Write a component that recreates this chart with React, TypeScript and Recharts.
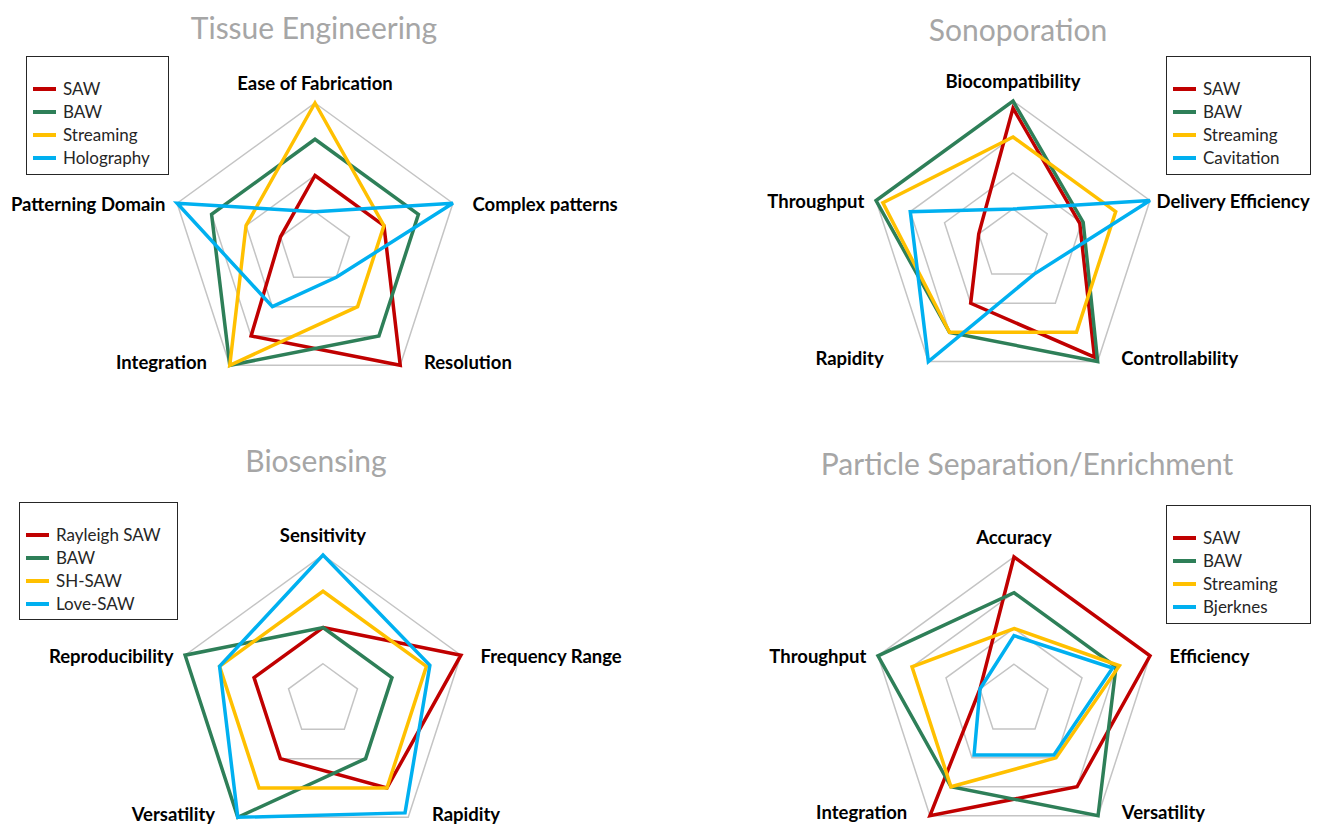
import React from "react";
import {
  RadarChart,
  Radar,
  PolarGrid,
  PolarAngleAxis,
  PolarRadiusAxis,
  Legend,
} from "recharts";

// ---- data ----
const COLORS = ["#c00000", "#2e7f58", "#ffc000", "#00b0f0"];

const tissueAxes = ["Ease of Fabrication", "Complex patterns", "Resolution", "Integration", "Patterning Domain"];
const tissueNames = ["SAW", "BAW", "Streaming", "Holography"];
const tissueSaw = [2, 2, 4, 3, 1];
const tissueBaw = [3, 3, 3, 4, 3];
const tissueStreaming = [4, 2, 2, 4, 2];
const tissueHolography = [1, 4, 1, 2, 4];

const sonoAxes = ["Biocompatibility", "Delivery Efficiency", "Controllability", "Rapidity", "Throughput"];
const sonoNames = ["SAW", "BAW", "Streaming", "Cavitation"];
const sonoSaw = [3.8, 1.95, 3.85, 2, 1];
const sonoBaw = [4, 2.05, 4, 3, 4];
const sonoStreaming = [3, 3, 3, 3, 3.8];
const sonoCavitation = [1, 4, 1, 4, 3];

const bioAxes = ["Sensitivity", "Frequency Range", "Rapidity", "Versatility", "Reproducibility"];
const bioNames = ["Rayleigh SAW", "BAW", "SH-SAW", "Love-SAW"];
const bioRayleigh = [2, 4, 3, 2, 2];
const bioBaw = [2, 2, 2, 4, 4];
const bioShSaw = [3, 3, 3, 3, 3];
const bioLove = [4, 3.1, 3.85, 4, 3];

const partAxes = ["Accuracy", "Efficiency", "Versatility", "Integration", "Throughput"];
const partNames = ["SAW", "BAW", "Streaming", "Bjerknes"];
const partSaw = [4, 4, 3, 4, 1];
const partBaw = [3, 3, 4, 3, 4];
const partStreaming = [2, 3.1, 2, 3, 3];
const partBjerknes = [1.8, 2.9, 1.9, 1.9, 1];

const FONT = "Lato, 'Open Sans', sans-serif";

function buildRows(axes: string[], values: number[][]) {
  return axes.map((axis, i) => {
    const row: Record<string, any> = { axis };
    values.forEach((v, k) => {
      row["s" + k] = v[i];
    });
    return row;
  });
}

const panels = [
  {
    title: "Tissue Engineering",
    titleX: 314, titleY: 27,
    left: 0, top: 0,
    cx: 315, cy: 248, r: 145,
    legend: { left: 26, top: 56, width: 143, height: 119 },
    names: tissueNames,
    rows: buildRows(tissueAxes, [tissueSaw, tissueBaw, tissueStreaming, tissueHolography]),
    nudge: {} as Record<string, number>,
  },
  {
    title: "Sonoporation",
    titleX: 358, titleY: 29,
    left: 660, top: 0,
    cx: 353, cy: 245, r: 144,
    legend: { left: 506, top: 56, width: 145, height: 119 },
    names: sonoNames,
    rows: buildRows(sonoAxes, [sonoSaw, sonoBaw, sonoStreaming, sonoCavitation]),
    nudge: { Rapidity: -22, "Delivery Efficiency": -13 } as Record<string, number>,
  },
  {
    title: "Biosensing",
    titleX: 316, titleY: 48,
    left: 0, top: 412,
    cx: 323, cy: 288, r: 145,
    legend: { left: 19, top: 90, width: 159, height: 118 },
    names: bioNames,
    rows: buildRows(bioAxes, [bioRayleigh, bioBaw, bioShSaw, bioLove]),
    nudge: {} as Record<string, number>,
  },
  {
    title: "Particle Separation/Enrichment",
    titleX: 367, titleY: 51,
    left: 660, top: 412,
    cx: 354, cy: 288, r: 143,
    legend: { left: 506, top: 93, width: 145, height: 119 },
    names: partNames,
    rows: buildRows(partAxes, [partSaw, partBaw, partStreaming, partBjerknes]),
    nudge: {} as Record<string, number>,
  },
];

function AngleTick(props: any) {
  const { x, y, payload, nudge } = props;
  const ang = (payload.coordinate * Math.PI) / 180;
  const c = Math.cos(ang);
  const s = Math.sin(ang);
  let dx = 0;
  let dy = 0;
  let anchor: "start" | "middle" | "end" = "middle";
  if (Math.abs(c) < 1e-3) {
    dy = -12;
  } else if (c > 0 && s > 0) {
    anchor = "start"; dx = 12; dy = 3;
  } else if (c > 0) {
    anchor = "start"; dx = 19; dy = -10;
  } else if (s < 0) {
    anchor = "end"; dx = -18; dy = -10;
  } else {
    anchor = "end"; dx = -4; dy = 3;
  }
  dx += (nudge && nudge[payload.value]) || 0;
  return (
    <text
      x={x + dx}
      y={y + dy}
      textAnchor={anchor}
      dominantBaseline="central"
      fontFamily={FONT}
      fontWeight={700}
      fontSize={18.5}
      fill="#000"
    >
      {payload.value}
    </text>
  );
}

function LegendBox(props: any) {
  const { payload, order } = props;
  const items = [...(payload || [])].sort(
    (a: any, b: any) => order.indexOf(a.value) - order.indexOf(b.value)
  );
  return (
    <div
      style={{
        boxSizing: "border-box",
        width: "100%",
        height: "100%",
        border: "1.5px solid #262626",
        background: "#fff",
        padding: "20px 0 0 6px",
        fontFamily: FONT,
        fontSize: 17,
        color: "#262626",
      }}
    >
      {items.map((p: any) => (
        <div key={p.value} style={{ display: "flex", alignItems: "center", height: 23 }}>
          <span style={{ display: "inline-block", width: 23, height: 4, background: p.color, marginRight: 7 }} />
          <span>{p.value}</span>
        </div>
      ))}
    </div>
  );
}

function Panel({ p }: { p: (typeof panels)[number] }) {
  return (
    <div style={{ position: "absolute", left: p.left, top: p.top, width: 660, height: 413 }}>
      <div
        style={{
          position: "absolute",
          left: p.titleX,
          top: p.titleY,
          transform: "translate(-50%, -50%)",
          whiteSpace: "nowrap",
          fontFamily: FONT,
          fontSize: 30,
          color: "#a6a6a6",
        }}
      >
        {p.title}
      </div>
      <RadarChart
        width={660}
        height={413}
        data={p.rows}
        cx={p.cx}
        cy={p.cy}
        outerRadius={p.r}
        margin={{ top: 0, right: 0, bottom: 0, left: 0 }}
        style={{ position: "absolute", left: 0, top: 0 }}
      >
        <PolarGrid gridType="polygon" radialLines={false} stroke="#c4c4c4" strokeWidth={1.5} />
        <PolarRadiusAxis domain={[0, 4]} tickCount={5} tick={false} axisLine={false} />
        <PolarAngleAxis
          dataKey="axis"
          tickLine={false}
          axisLine={false}
          tick={(tp: any) => <AngleTick {...tp} nudge={p.nudge} />}
        />
        {p.names.map((n, k) => (
          <Radar
            key={n}
            name={n}
            dataKey={"s" + k}
            stroke={COLORS[k]}
            strokeWidth={3.5}
            fill="none"
            fillOpacity={0}
            dot={false}
            isAnimationActive={false}
          />
        ))}
        <Legend
          layout="vertical"
          align="center"
          verticalAlign="middle"
          content={<LegendBox order={p.names} />}
          wrapperStyle={{
            left: p.legend.left,
            top: p.legend.top,
            width: p.legend.width,
            height: p.legend.height,
          }}
        />
      </RadarChart>
    </div>
  );
}

export default function App() {
  return (
    <div style={{ position: "absolute", left: 0, top: 0, width: 1321, height: 825, background: "#fff", overflow: "hidden" }}>
      {panels.map((p) => (
        <Panel key={p.title} p={p} />
      ))}
    </div>
  );
}
